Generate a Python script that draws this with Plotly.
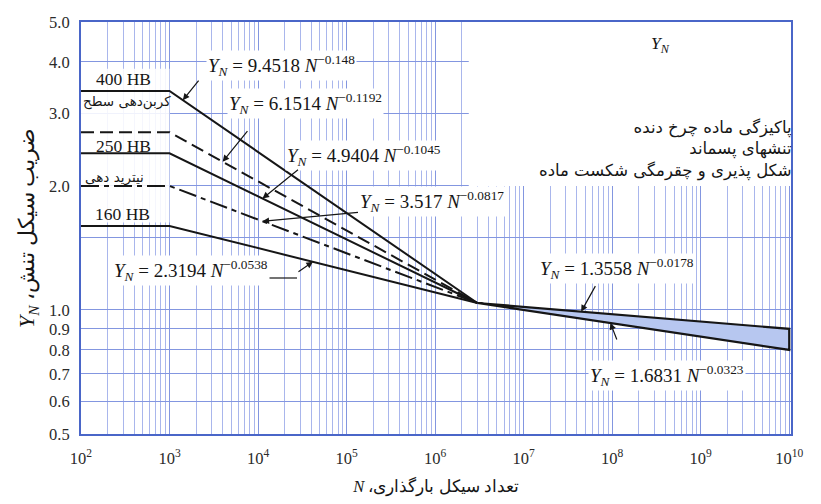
import math
import plotly.graph_objects as go

# Low-cycle curves: Y_N = a * N^(-b), capped below 10^3 cycles
curve_names = ["400 HB", "کربن‌دهی سطح", "250 HB", "نیترید دهی", "160 HB"]
curve_coef = [9.4518, 6.1514, 4.9404, 3.517, 2.3194]
curve_expo = [0.148, 0.1192, 0.1045, 0.0817, 0.0538]
curve_dash = ["solid", "13px,6px", "solid", "18px,5px,5px,5px", "solid"]
curve_n = [1e2, 1e3, 3e6]

# Long-life band (upper / lower bound)
band_coef = [1.3558, 1.6831]
band_expo = [0.0178, 0.0323]
band_n = [3e6, 1e10]

# Axis ticks
x_tick_vals = [10 ** k for k in range(2, 11)]
x_tick_text = [f"10<sup>{k}</sup>" for k in range(2, 11)]
x_minor_vals = [m * 10 ** k for k in range(2, 10) for m in range(2, 10)]
y_tick_vals = [0.5, 0.6, 0.7, 0.8, 0.9, 1.0, 1.5, 2.0, 3.0, 4.0, 5.0]
y_tick_text = ["0.5", "0.6", "0.7", "0.8", "0.9", "1.0", "", "2.0", "3.0", "4.0", "5.0"]
y2_tick_vals = [0.5, 0.6, 0.7, 0.8, 0.9, 1.0]
y2_tick_text = ["0.5", "0.6", "0.7", "0.8", "0.9", "1.0"]

SERIF = "'Liberation Serif', 'Times New Roman', serif"
FARSI = "'DejaVu Sans', sans-serif"
INK = "#161616"
FRAME = "#4a66c8"
GRID = "#8396e0"
GRID_MINOR = "#a9b6ec"

W, H = 821, 504
PL, PR, PT, PB = 81, 791, 22, 434


def fx(px):
    return (px - PL) / (PR - PL)


def fy(py):
    return (PB - py) / (PB - PT)


def power(a, b, n):
    return a * n ** (-b)


def formula(a, b):
    return f"<i>Y<sub>N</sub></i> = {a} <i>N</i><sup>\u2212{b}</sup>"


fig = go.Figure()

# Long-life band
u_a, l_a = band_coef
u_b, l_b = band_expo
band_x = [band_n[0], band_n[1], band_n[1], band_n[0]]
band_y = [power(u_a, u_b, band_n[0]), power(u_a, u_b, band_n[1]),
          power(l_a, l_b, band_n[1]), power(l_a, l_b, band_n[0])]
fig.add_trace(go.Scatter(
    x=band_x, y=band_y, mode="lines", fill="toself",
    fillcolor="#b7c7f0", line=dict(color=INK, width=2.2),
    hoverinfo="skip", showlegend=False))

# Material curves
for name, a, b, dash in zip(curve_names, curve_coef, curve_expo, curve_dash):
    y_knee = power(a, b, curve_n[1])
    ys = [y_knee, y_knee, power(a, b, curve_n[2])]
    fig.add_trace(go.Scatter(
        x=curve_n, y=ys, mode="lines", name=name,
        line=dict(color=INK, width=2, dash=dash),
        showlegend=False))

# Blank panels on the chart paper
shapes = [
    dict(type="rect", xref="x", yref="y", x0=10 ** 6.38, x1=10 ** 10.02,
         y0=2.0, y1=5.0, fillcolor="white", line=dict(width=0),
         layer="between"),
    dict(type="rect", xref="x", yref="y", x0=1e2, x1=1e3,
         y0=1.63, y1=3.85, fillcolor="white", opacity=0.88,
         line=dict(width=0), layer="between"),
    # leader under the 160 HB equation
    dict(type="line", xref="paper", yref="paper",
         x0=fx(269), x1=fx(297), y0=fy(278), y1=fy(278),
         line=dict(color=INK, width=1.2)),
]

ann = []


def text(px, py, s, size=17.5, xanchor="left", font=SERIF, align="left", bg=None):
    d = dict(x=fx(px), y=fy(py), xref="paper", yref="paper", text=s,
             showarrow=False, xanchor=xanchor, yanchor="middle", align=align,
             font=dict(family=font, size=size, color=INK))
    if bg:
        d["bgcolor"] = bg
    ann.append(d)


def arrow(n_tip, y_tip, ax, ay):
    ann.append(dict(x=math.log10(n_tip), y=math.log10(y_tip), xref="x", yref="y",
                    text="", showarrow=True, ax=ax, ay=ay,
                    arrowhead=2, arrowsize=1.1, arrowwidth=1.2, arrowcolor=INK))


# curve labels at the left
text(123, 79, curve_names[0], xanchor="center")
text(127, 101, curve_names[1], size=13.5, xanchor="center", font=FARSI)
text(123, 146, curve_names[2], xanchor="center")
text(114, 177, curve_names[3], size=13.5, xanchor="center", font=FARSI)
text(122, 214, curve_names[4], xanchor="center")

# equations
label_pos = [(206, 66), (227, 103), (285, 155), (358, 201), (112, 270)]
for (px, py), a, b in zip(label_pos, curve_coef, curve_expo):
    text(px, py, formula(a, b), size=19, bg="white")
text(538, 268, formula(band_coef[0], band_expo[0]), size=19, bg="white")
text(588, 375, formula(band_coef[1], band_expo[1]), size=19, bg="white")

# arrows pointing at each curve
arrow_n = [10 ** 3.15, 10 ** 3.6, 10 ** 4.05, 10 ** 4.05, 10 ** 4.62]
arrow_off = [(17, -21), (26, -32), (37, -30), (97, -9), (-16, 11)]
for n_tip, a, b, (ax, ay) in zip(arrow_n, curve_coef, curve_expo, arrow_off):
    arrow(n_tip, power(a, b, n_tip), ax, ay)
arrow(10 ** 7.65, power(band_coef[0], band_expo[0], 10 ** 7.65), 15, -27)
arrow(10 ** 7.98, power(band_coef[1], band_expo[1], 10 ** 7.98), 7, 18)

# panel heading and notes
text(660, 45, "<i>Y<sub>N</sub></i>", xanchor="center")
text(794, 149, "پاکیزگی ماده چرخ دنده<br>تنشهای پسماند<br>شکل پذیری و چقرمگی شکست ماده",
     size=16.5, xanchor="right", font=FARSI, align="right")

fig.update_layout(
    width=W, height=H,
    margin=dict(l=PL, r=W - PR, t=PT, b=H - PB),
    paper_bgcolor="white", plot_bgcolor="white",
    shapes=shapes, annotations=ann,
    xaxis=dict(
        type="log", range=[2, 10.02],
        tickmode="array", tickvals=x_tick_vals, ticktext=x_tick_text,
        ticks="", ticklabelstandoff=8,
        tickfont=dict(family=SERIF, size=16.5, color="#2a2a2a"),
        showgrid=True, gridcolor=GRID, gridwidth=1,
        minor=dict(tickmode="array", tickvals=x_minor_vals, showgrid=True,
                   gridcolor=GRID_MINOR, gridwidth=1, ticks=""),
        showline=True, linecolor=FRAME, linewidth=2, mirror=True,
        zeroline=False,
        title=dict(text="<i>N</i> ،تعداد سیکل بارگذاری", standoff=14,
                   font=dict(family=SERIF, size=16.5, color=INK)),
    ),
    yaxis=dict(
        type="log", range=[math.log10(0.5), math.log10(5.0)],
        tickmode="array", tickvals=y_tick_vals, ticktext=y_tick_text,
        ticks="", ticklabelstandoff=6,
        tickfont=dict(family=SERIF, size=16.5, color="#2a2a2a"),
        showgrid=True, gridcolor=GRID, gridwidth=1,
        showline=True, linecolor=FRAME, linewidth=2, mirror=True,
        zeroline=False, layer="below traces",
        title=dict(text="<i>Y<sub>N</sub></i> ،ضریب سیکل تنش", standoff=8,
                   font=dict(family=SERIF, size=22, color=INK)),
    ),
    yaxis2=dict(
        type="log", range=[math.log10(0.5), math.log10(5.0)],
        overlaying="y", side="right", anchor="x",
        tickmode="array", tickvals=y2_tick_vals, ticktext=y2_tick_text,
        ticks="", ticklabelstandoff=3, showgrid=False, showline=False,
        zeroline=False,
        tickfont=dict(family=SERIF, size=16.5, color="#2a2a2a"),
    ),
)

fig.write_html("out.html")
